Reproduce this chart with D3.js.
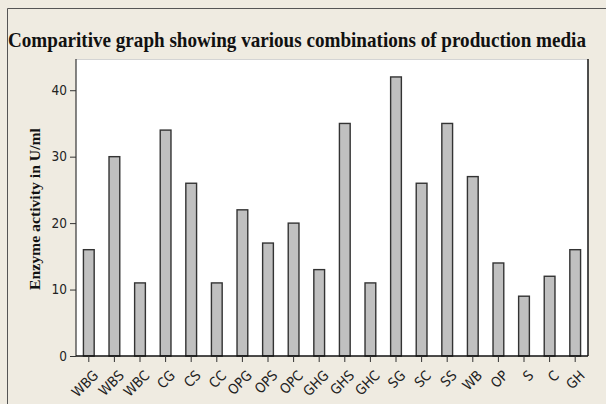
<!DOCTYPE html>
<html><head><meta charset="utf-8">
<script src="https://cdn.jsdelivr.net/npm/d3@7"></script>
<style>html,body{margin:0;padding:0;background:#efebe1;}svg{display:block;}</style>
</head><body>
<script>
const categories = ["WBG","WBS","WBC","CG","CS","CC","OPG","OPS","OPC","GHG","GHS","GHC","SG","SC","SS","WB","OP","S","C","GH"];
const values = [16,30,11,34,26,11,22,17,20,13,35,11,42,26,35,27,14,9,12,16];
const yTicks = [0,10,20,30,40];
const title = "Comparitive graph showing various combinations of production media";
const yLabel = "Enzyme activity in U/ml";

const W = 606, H = 404;
const L = 76, R = 588, T = 59, B = 356;
const svg = d3.select("body").append("svg").attr("width", W).attr("height", H);

svg.append("rect").attr("x",0).attr("y",0).attr("width",W).attr("height",H).attr("fill","#efebe1");
svg.append("path").attr("d",`M7.5,${H} V8.5 H${W}`).attr("fill","none").attr("stroke","#555").attr("stroke-width",1);

svg.append("rect").attr("x",L).attr("y",T).attr("width",R-L).attr("height",B-T).attr("fill","#fff");
svg.append("line").attr("x1",L).attr("x2",R).attr("y1",T+0.5).attr("y2",T+0.5).attr("stroke","#d4d4d4");
svg.append("line").attr("x1",R).attr("x2",R).attr("y1",T).attr("y2",B).attr("stroke","#222").attr("stroke-width",1.6);

const x = d3.scaleBand().domain(categories).range([L, R]).padding(0);
const y = d3.scaleLinear().domain([0, 44.7]).range([B, T]);
const bw = x.bandwidth() * 0.42;

svg.append("g").selectAll("rect").data(values).join("rect")
  .attr("x", (d,i) => x(categories[i]) + x.bandwidth()/2 - bw/2)
  .attr("y", d => y(d))
  .attr("width", bw)
  .attr("height", d => B - y(d))
  .attr("fill", "#c0c0c0")
  .attr("stroke", "#333")
  .attr("stroke-width", 1.4);

const ya = svg.append("g").attr("transform", `translate(${L},0)`)
  .call(d3.axisLeft(y).tickValues(yTicks).tickSize(6).tickPadding(3).tickFormat(d3.format("d")));
ya.select(".domain").attr("stroke","#444").attr("stroke-width",1.3).attr("d",`M0,${T}V${B}`);
ya.selectAll(".tick line").attr("stroke","#333");
ya.selectAll(".tick text").attr("font-family","'DejaVu Sans Condensed', 'DejaVu Sans', sans-serif").attr("font-size","13.5px").attr("fill","#222");

const xa = svg.append("g").attr("transform", `translate(0,${B})`)
  .call(d3.axisBottom(x).tickSize(6).tickPadding(2));
xa.select(".domain").attr("stroke","#111").attr("stroke-width",1.5).attr("d",`M${L},0H${R}`);
xa.selectAll(".tick line").attr("stroke","#333");
xa.selectAll(".tick text")
  .attr("font-family","'DejaVu Sans Condensed', 'DejaVu Sans', sans-serif").attr("font-size","14px").attr("fill","#222")
  .attr("text-anchor","end").attr("x",0).attr("y",0).attr("dy","0.75em")
  .attr("transform","translate(3,13) rotate(-45)");

svg.append("text").attr("transform", "translate(8,47) scale(1,1.12)").text(title)
  .attr("font-family","'Liberation Serif', 'Times New Roman', serif").attr("font-weight","bold")
  .attr("font-size","19px").attr("fill","#111")
  .attr("textLength", 578).attr("lengthAdjust","spacingAndGlyphs");

svg.append("text").attr("transform", `translate(40,209) rotate(-90)`).attr("text-anchor","middle").text(yLabel)
  .attr("font-family","'Liberation Serif', 'Times New Roman', serif").attr("font-weight","bold")
  .attr("font-size","15px").attr("fill","#111")
  .attr("textLength", 162).attr("lengthAdjust","spacingAndGlyphs");
</script>
</body></html>
